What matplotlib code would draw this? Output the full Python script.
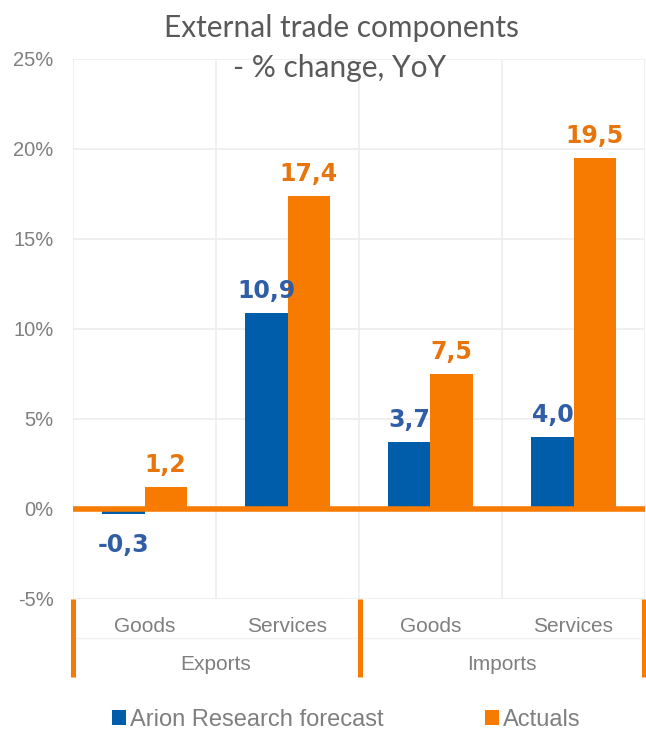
import numpy as np
import matplotlib
matplotlib.use("Agg")
import matplotlib.pyplot as plt
from matplotlib.lines import Line2D

# data
groups = ["Exports", "Imports"]
subcats = ["Goods", "Services", "Goods", "Services"]
forecast = [-0.3, 10.9, 3.7, 4.0]
actuals = [1.2, 17.4, 7.5, 19.5]
yticks = [-5, 0, 5, 10, 15, 20, 25]
series_names = ["Arion Research forecast", "Actuals"]

BLUE = "#005DAA"
ORANGE = "#F77B00"
BLUE_TXT = "#2F5DA6"
ORANGE_TXT = "#E8740C"
GREY_TXT = "#7F7F7F"
GRID = "#EDEDED"

W, H = 646, 733
fig = plt.figure(figsize=(W / 100, H / 100), dpi=100)

def fx(px):
    return px / W

def fy(py):
    return 1 - py / H

ax = fig.add_axes([fx(73), fy(599), fx(645) - fx(73), fy(59) - fy(599)])

x = np.arange(len(subcats))
bw = 0.294
b1 = ax.bar(x - bw / 2, forecast, bw, color=BLUE, zorder=2, label=series_names[0])
b2 = ax.bar(x + bw / 2, actuals, bw, color=ORANGE, zorder=2, label=series_names[1])

ax.set_xlim(-0.5, len(subcats) - 0.5)
ax.set_ylim(-5, 25)
ax.set_yticks(yticks)
ax.set_yticklabels([f"{t}%" for t in yticks], fontsize=14.5, color=GREY_TXT,
                   family="Liberation Sans")
ax.tick_params(axis="y", length=0, pad=14)
ax.set_xticks([])

# gridlines
for t in yticks:
    ax.axhline(t, color=GRID, lw=1.2, zorder=0)
for b in np.arange(-0.5, len(subcats), 1.0):
    ax.axvline(b, color=GRID, lw=1.2, zorder=0)
for s in ax.spines.values():
    s.set_visible(False)

ax.axhline(0, color=ORANGE, lw=4, zorder=3)

# data labels
def fmt(v):
    return f"{v:.1f}".replace(".", ",")

for bars, vals, col in [(b1, forecast, BLUE_TXT), (b2, actuals, ORANGE_TXT)]:
    for r, v in zip(bars, vals):
        cx = r.get_x() + r.get_width() / 2
        off = 11 if v >= 0 else -27
        ax.annotate(fmt(v), (cx, v), xytext=(0, off), textcoords="offset points",
                    ha="center", va="baseline", fontsize=17, fontweight="bold",
                    color=col, family="DejaVu Sans", zorder=4)

# category axis below the plot
for xi, name in zip(x, subcats):
    xf = fx(73) + (xi + 0.5) / len(subcats) * (fx(645) - fx(73))
    fig.text(xf, fy(626), name, ha="center", va="center", fontsize=15,
             color=GREY_TXT, family="Liberation Sans")
for gi, g in enumerate(groups):
    xf = fx(73) + (gi + 0.5) / len(groups) * (fx(645) - fx(73))
    fig.text(xf, fy(664), g, ha="center", va="center", fontsize=15,
             color=GREY_TXT, family="Liberation Sans")

fig.add_artist(Line2D([fx(73), fx(645)], [fy(638), fy(638)], color="#F2F2F2", lw=1))
for px in [73, 360, 644]:
    fig.add_artist(Line2D([fx(px), fx(px)], [fy(599), fy(677)], color=ORANGE, lw=3.6,
                          solid_capstyle="butt"))

# title
fig.text(fx(341), fy(28), "External trade components", ha="center", va="center",
         fontsize=21.5, color="#595959", family="Lato")
fig.text(fx(340), fy(68), "- % change, YoY", ha="center", va="center",
         fontsize=21.5, color="#595959", family="Lato")

# legend
leg = fig.legend(handles=[b1, b2], loc="center", bbox_to_anchor=(fx(346), fy(720)),
                 ncol=2, frameon=False, handlelength=0.6, handleheight=0.6,
                 handletextpad=0.15, columnspacing=4.3, borderpad=0.1,
                 prop={"family": "Liberation Sans", "size": 17})
for t in leg.get_texts():
    t.set_color(GREY_TXT)

fig.savefig("out.png", dpi=100)
